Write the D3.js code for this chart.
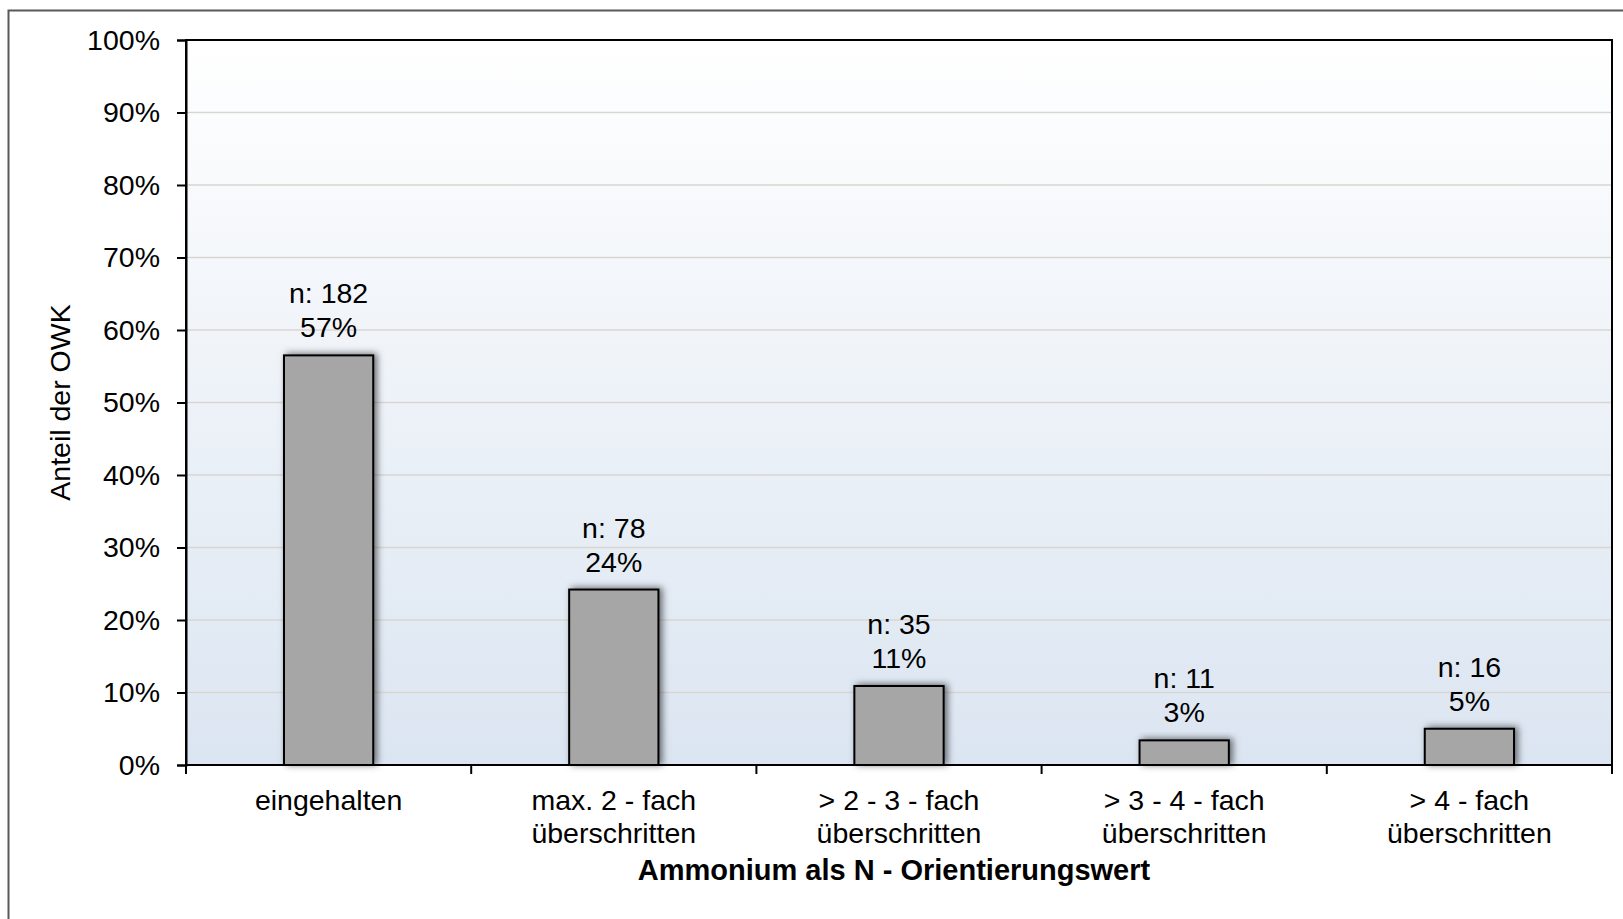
<!DOCTYPE html>
<html>
<head>
<meta charset="utf-8">
<script src="https://cdn.jsdelivr.net/npm/d3@7"></script>
<style>
  html, body { margin: 0; padding: 0; background: #ffffff; }
  svg { display: block; }
  text { font-family: "Liberation Sans", Arial, sans-serif; fill: #000; }
</style>
</head>
<body>
<svg id="chart" width="1623" height="919"></svg>
<script>
const categories = [
  ["eingehalten"],
  ["max. 2 - fach", "überschritten"],
  ["> 2 - 3 - fach", "überschritten"],
  ["> 3 - 4 - fach", "überschritten"],
  ["> 4 - fach", "überschritten"]
];
const counts = [182, 78, 35, 11, 16];
const values = [56.5, 24.2, 10.9, 3.4, 5.0];
const valueLabels = ["57%", "24%", "11%", "3%", "5%"];
const yTicks = [0, 10, 20, 30, 40, 50, 60, 70, 80, 90, 100];
const yTickLabels = ["0%", "10%", "20%", "30%", "40%", "50%", "60%", "70%", "80%", "90%", "100%"];
const xTitle = "Ammonium als N - Orientierungswert";
const yTitle = "Anteil der OWK";

const svg = d3.select("#chart");
const W = 1623, H = 919;
const plot = { left: 186, right: 1612, top: 40, bottom: 765 };
const fs = 28.5;

// outer frame (extends beyond right/bottom edges)
svg.append("rect")
  .attr("x", 8.5).attr("y", 10.5)
  .attr("width", W + 20).attr("height", H + 20)
  .attr("fill", "#fff").attr("stroke", "#595959").attr("stroke-width", 2);

const defs = svg.append("defs");
const grad = defs.append("linearGradient").attr("id", "bg")
  .attr("x1", 0).attr("y1", 0).attr("x2", 0).attr("y2", 1);
grad.append("stop").attr("offset", "0%").attr("stop-color", "#ffffff");
grad.append("stop").attr("offset", "100%").attr("stop-color", "#dbe5f1");

const filt = defs.append("filter").attr("id", "shadow")
  .attr("x", "-30%").attr("y", "-30%").attr("width", "160%").attr("height", "160%");
filt.append("feDropShadow").attr("dx", 3).attr("dy", -1).attr("stdDeviation", 3.5)
  .attr("flood-color", "#000").attr("flood-opacity", 0.55);

const idx = categories.map((d, i) => i);
const x = d3.scaleBand().domain(idx).range([plot.left, plot.right]).padding(0);
const y = d3.scaleLinear().domain([0, 100]).range([plot.bottom, plot.top]);

// plot background
svg.append("rect")
  .attr("x", plot.left).attr("y", plot.top)
  .attr("width", plot.right - plot.left).attr("height", plot.bottom - plot.top)
  .attr("fill", "url(#bg)");

// gridlines
svg.append("g").selectAll("line").data(yTicks.filter(t => t > 0 && t < 100)).join("line")
  .attr("x1", plot.left).attr("x2", plot.right)
  .attr("y1", d => y(d)).attr("y2", d => y(d))
  .attr("stroke", "#d9d6d2").attr("stroke-width", 1.5);

// bars
const barFrac = 0.313;
const bw = x.bandwidth() * barFrac;
svg.append("g").selectAll("rect").data(idx).join("rect")
  .attr("x", i => x(i) + (x.bandwidth() - bw) / 2)
  .attr("y", i => y(values[i]))
  .attr("width", bw)
  .attr("height", i => y(0) - y(values[i]))
  .attr("fill", "#a6a6a6")
  .attr("stroke", "#000").attr("stroke-width", 2)
  .attr("filter", "url(#shadow)");

// plot frame
svg.append("rect")
  .attr("x", plot.left).attr("y", plot.top)
  .attr("width", plot.right - plot.left).attr("height", plot.bottom - plot.top)
  .attr("fill", "none").attr("stroke", "#000").attr("stroke-width", 2);

// y axis
const yAxis = d3.axisLeft(y).tickValues(yTicks).tickSize(9).tickPadding(17)
  .tickFormat((d, i) => yTickLabels[i]);
const gy = svg.append("g").attr("transform", `translate(${plot.left},0)`).call(yAxis);
gy.select(".domain").attr("stroke", "#000").attr("stroke-width", 2);
gy.selectAll(".tick line").attr("stroke", "#000").attr("stroke-width", 2);
gy.selectAll(".tick text").attr("font-size", fs)
  .attr("font-family", "Liberation Sans, Arial, sans-serif").attr("fill", "#000");

// x axis ticks at category boundaries
const bounds = idx.map(i => x(i)).concat([plot.right]);
svg.append("g").selectAll("line").data(bounds).join("line")
  .attr("x1", d => d).attr("x2", d => d)
  .attr("y1", plot.bottom).attr("y2", plot.bottom + 9)
  .attr("stroke", "#000").attr("stroke-width", 2);

// category labels
const cl = svg.append("g").selectAll("text").data(idx).join("text")
  .attr("x", i => x(i) + x.bandwidth() / 2)
  .attr("y", 810)
  .attr("text-anchor", "middle").attr("font-size", fs);
cl.selectAll("tspan").data(i => categories[i]).join("tspan")
  .attr("x", function () { return d3.select(this.parentNode).attr("x"); })
  .attr("dy", (d, j) => j === 0 ? 0 : 33)
  .text(d => d);

// data labels
const dl = svg.append("g");
idx.forEach(i => {
  const cx = x(i) + x.bandwidth() / 2;
  const top = y(values[i]);
  dl.append("text").attr("x", cx).attr("y", top - 52)
    .attr("text-anchor", "middle").attr("font-size", fs).text("n: " + counts[i]);
  dl.append("text").attr("x", cx).attr("y", top - 18)
    .attr("text-anchor", "middle").attr("font-size", fs).text(valueLabels[i]);
});

// axis titles
svg.append("text")
  .attr("x", (plot.left + plot.right) / 2 - 5).attr("y", 880)
  .attr("text-anchor", "middle").attr("font-size", 29).attr("font-weight", "bold")
  .text(xTitle);
svg.append("text")
  .attr("transform", `translate(70, ${(plot.top + plot.bottom) / 2}) rotate(-90)`)
  .attr("text-anchor", "middle").attr("font-size", fs)
  .text(yTitle);
</script>
</body>
</html>
